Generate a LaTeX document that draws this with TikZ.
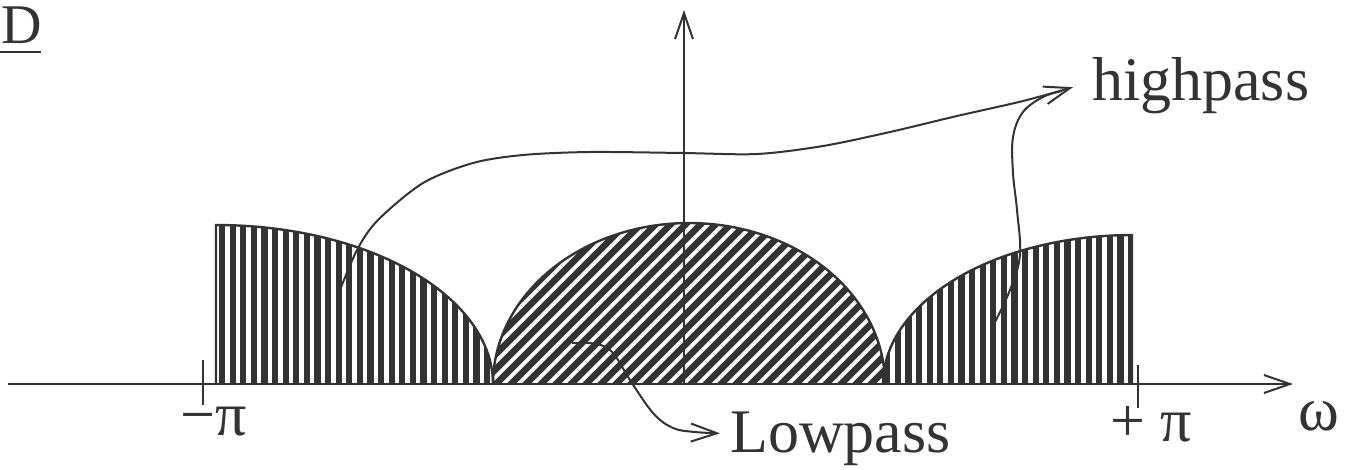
\documentclass[tikz,border=0pt]{standalone}
\usepackage{fontspec}
\setmainfont{Liberation Serif}
\usetikzlibrary{arrows.meta}
\definecolor{ink}{gray}{0.2}
\begin{document}
\begin{tikzpicture}[x=1pt,y=-1pt,
  lbl/.style={font=\fontsize{62}{70}\selectfont, inner sep=0pt, text=ink},
  conn/.style={draw=ink, line width=2pt, -{Straight Barb[length=26pt,width=18pt]}},
  thin/.style={draw=ink, line width=2pt},
  outline/.style={draw=ink, line width=2.4pt},
  vhatch/.style={draw=ink, line width=6.2pt},
  dhatch/.style={draw=ink, line width=6.6pt}]
\useasboundingbox (0,0) rectangle (1361,469);

% ---- left highpass region
\begin{scope}
\clip (216,384) -- plot[domain=90:0,samples=80] ({216+277*cos(\x)},{384-159*sin(\x)}) -- cycle;
\foreach \i in {0,...,27} \draw[vhatch] ({222+\i*10.6},215) -- ++(0,175);
\end{scope}
\draw[outline] (216,384) -- (216,225) -- plot[domain=90:0,samples=80] ({216+277*cos(\x)},{384-159*sin(\x)});

% ---- right highpass region
\begin{scope}
\clip (1133,384) -- plot[domain=90:180,samples=80] ({1133+250*cos(\x)},{384-149*sin(\x)}) -- cycle;
\foreach \i in {0,...,25} \draw[vhatch] ({1131-\i*10.6},225) -- ++(0,165);
\end{scope}
\draw[outline] (1133,235) -- plot[domain=90:180,samples=80] ({1133+250*cos(\x)},{384-149*sin(\x)});

% ---- central lowpass region
\begin{scope}
\clip (493,384) -- plot[domain=180:0,samples=100] ({689+196*cos(\x)},{384-161*sin(\x)}) -- cycle;
\foreach \i in {0,...,45} \draw[dhatch] ({300+\i*15},400) -- ++(230,-230);
\end{scope}
\draw[outline] plot[domain=180:0,samples=100] ({689+196*cos(\x)},{384-161*sin(\x)});

% ---- axes
\coordinate (xstart) at (8,384);
\coordinate (xend) at (1293,384);
\coordinate (ystart) at (684,384);
\coordinate (yend) at (684,10);
\draw[conn] (xstart) -- (xend);
\draw[conn] (ystart) -- (yend);
\draw[thin] (203,360) -- (203,405);
\draw[thin] (1138,365) -- (1138,408);

% ---- labels
\node[lbl, anchor=base west] (mpi) at (180,435) {−π};
\node[lbl, anchor=base west] (ppi) at (1110,441) {+ π};
\node[lbl, anchor=base west] (om) at (1298,430) {ω};
\node[lbl, anchor=base west] (low) at (730,452) {Lowpass};
\node[lbl, anchor=base west] (high) at (1092,100) {highpass};
\node[lbl, font=\fontsize{56}{60}\selectfont, anchor=base west] (D) at (1,43) {D};
\draw[thin] (0,52) -- (41,52);

% ---- connectors
\coordinate (hs1) at (338,295);
\coordinate (hs2) at (995,322);
\coordinate (ls) at (572,343);
\draw[conn] plot[smooth, tension=0.5] coordinates {(hs1) (357,250) (378,220) (423,183) (473,163) (523,155) (590,152) (683,153) (757,154) (823,146) (890,132) (957,116) (1023,101) ([xshift=-19pt,yshift=-2pt]high.west)};
\draw[thin] plot[smooth, tension=0.6] coordinates {(hs2) (1010,290) (1020,255) (1017,210) (1013,173) (1013,137) (1023,112) (1043,97) (1062,91)};
\draw[conn] plot[smooth, tension=0.6] coordinates {(ls) (597,344) (613,353) (630,380) (653,413) (673,428) (695,432) ([xshift=-10pt,yshift=5pt]low.west)};
\end{tikzpicture}
\end{document}
